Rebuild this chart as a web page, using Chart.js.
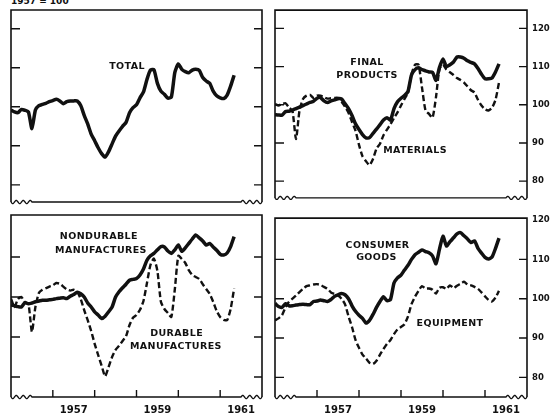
<!DOCTYPE html>
<html>
<head>
<meta charset="utf-8">
<script src="https://cdn.jsdelivr.net/npm/chart.js@4/dist/chart.umd.min.js"></script>
<style>
  html, body { margin: 0; padding: 0; background: #fff; }
  #wrap { position: relative; width: 553px; height: 417px; overflow: hidden; }
  #wrap canvas { position: absolute; }
  .base { position: absolute; left: 11px; top: -3px; font: bold 9px "DejaVu Sans", sans-serif; line-height: 9px; color: #111; white-space: pre; }
</style>
</head>
<body>
<div id="wrap">
  <div class="base">1957 = 100</div>
  <canvas id="totalChart" width="270" height="208" style="left:0;top:0"></canvas>
  <canvas id="productsChart" width="283" height="208" style="left:270px;top:0"></canvas>
  <canvas id="manufChart" width="270" height="209" style="left:0;top:208px"></canvas>
  <canvas id="goodsChart" width="283" height="209" style="left:270px;top:208px"></canvas>
</div>
<script>
const INK = '#111';
const FONT = '"DejaVu Sans", sans-serif';

// x axis: months since Jan 1956 (one value per month, Jan 1956 .. May 1961)
const yearLabels = ['1957', '1959', '1961'];
const yearLabelMonths = [18, 42, 66];
const yearTickMonths = [12, 24, 36, 48, 60];
const valueTicks = [80, 90, 100, 110, 120];

const total = [
  99.2, 98.7, 98.5, 99.3, 99.1, 98.7, 94.4, 99.2, 100.3, 100.6, 100.9, 101.3,
  101.6, 101.9, 101.5, 100.8, 101.3, 101.5, 101.5, 101.5, 100.3, 97.8, 95.6, 93.0,
  91.3, 89.5, 88.0, 87.1, 88.5, 90.5, 92.5, 93.8, 95.0, 96.0, 98.5, 99.8,
  100.5, 102.3, 103.8, 107.0, 109.4, 109.5, 106.0, 104.0, 103.2, 102.2, 102.5, 108.8,
  111.0, 109.6, 109.0, 108.7, 109.4, 109.6, 109.3, 107.5, 106.6, 106.0, 104.0, 102.8,
  102.3, 102.1, 103.0, 105.3, 108.1,
];
const finalProducts = [
  97.4, 97.3, 97.3, 98.2, 98.3, 98.6, 99.0, 99.4, 99.8, 100.2, 100.6, 100.9,
  101.7, 101.9, 101.0, 100.6, 101.0, 101.3, 101.6, 101.5, 100.3, 99.0, 97.2, 95.0,
  93.5, 92.2, 91.3, 91.4, 92.5, 93.6, 94.8, 96.0, 96.6, 96.0, 99.0, 100.8,
  101.7, 102.4, 103.5, 107.8, 109.2, 109.7, 109.2, 108.9, 108.6, 108.5, 106.4, 109.8,
  112.0, 110.0, 110.5, 111.2, 112.5, 112.5, 112.2, 111.5, 111.1, 110.7, 109.5, 108.0,
  106.8, 106.8, 107.0, 108.6, 110.7,
];
const materials = [
  100.2, 99.8, 100.2, 100.4, 99.3, 98.3, 91.0, 98.5, 101.5, 102.4, 102.6, 101.8,
  102.4, 102.4, 102.0, 101.6, 101.7, 101.8, 101.8, 100.8, 99.5, 97.9, 95.5, 93.2,
  89.5, 86.5, 85.2, 84.2, 85.8, 88.5, 89.8, 92.0, 93.5, 94.9, 96.5, 98.0,
  99.8, 101.5, 103.2, 108.0, 110.5, 110.5, 104.5, 98.5, 97.6, 96.6, 102.0, 109.5,
  110.5, 109.2, 108.5, 107.8, 107.0, 106.5, 105.8, 104.8, 103.8, 103.2, 101.3, 99.8,
  98.8, 98.5, 99.2, 101.3, 105.8,
];
const nondurable = [
  98.0, 97.8, 97.6, 97.5, 98.6, 98.3, 98.5, 98.8, 99.0, 99.2, 99.2, 99.3,
  99.4, 99.6, 99.7, 99.8, 99.6, 100.2, 100.6, 101.2, 100.8, 100.0, 98.5, 97.5,
  96.3, 95.5, 94.6, 95.2, 96.3, 97.5, 100.0, 101.3, 102.3, 103.2, 104.2, 104.4,
  104.6, 105.5, 107.0, 109.2, 110.3, 110.9, 111.8, 112.6, 112.5, 111.5, 110.9, 111.8,
  113.0, 111.4, 112.3, 113.4, 114.5, 115.5, 114.8, 114.0, 113.0, 113.4, 112.5, 111.7,
  110.7, 110.5, 111.0, 112.6, 115.1,
];
const durable = [
  99.6, 97.5, 99.5, 100.0, 98.6, 98.3, 91.3, 97.5, 101.0, 101.8, 102.2, 102.6,
  102.9, 103.5, 103.3, 102.6, 101.9, 101.6, 101.8, 101.3, 99.5, 96.7, 94.2, 91.5,
  88.3, 85.5, 82.8, 80.2, 82.5, 85.0, 86.8, 87.8, 89.0, 90.2, 93.0, 94.8,
  95.5, 96.8, 99.0, 103.5, 108.0, 109.6, 106.5, 98.8, 97.0, 96.0, 95.0, 102.0,
  110.3, 109.5, 108.5, 106.7, 105.5, 105.0, 104.5, 103.2, 102.0, 100.8, 98.8, 96.5,
  95.0, 94.3, 94.2, 97.0, 102.1,
];
const consumerGoods = [
  98.8, 98.0, 97.8, 98.7, 98.2, 98.2, 98.4, 98.5, 98.6, 98.5, 98.5, 99.3,
  99.4, 99.7, 99.5, 99.3, 99.8, 100.6, 101.0, 101.3, 101.0, 100.0, 98.2, 96.8,
  95.8, 95.0, 93.8, 94.5, 96.0, 97.8, 99.3, 100.5, 99.5, 99.8, 104.0, 105.3,
  106.0, 107.3, 108.5, 110.0, 111.2, 111.8, 112.4, 112.0, 111.7, 110.9, 108.9, 112.6,
  115.9, 113.4, 114.5, 115.5, 116.5, 116.8, 116.0, 115.2, 114.3, 114.7, 112.8, 111.6,
  110.5, 110.1, 110.6, 112.8, 115.4,
];
const equipment = [
  94.5, 95.0, 95.8, 97.8, 99.2, 100.0, 100.8, 101.7, 102.5, 103.2, 103.4, 103.6,
  103.7, 103.5, 103.0, 102.5, 101.6, 101.2, 100.8, 100.0, 98.6, 95.5, 92.8, 89.5,
  87.5, 85.8, 84.8, 83.7, 83.4, 84.2, 85.8, 87.2, 88.5, 89.5, 91.0, 92.2,
  92.8, 93.5, 95.5, 98.6, 100.5, 102.0, 103.2, 102.6, 102.6, 102.3, 101.3, 102.8,
  102.9, 102.5, 103.4, 102.7, 103.3, 103.8, 104.3, 103.6, 103.4, 103.0, 102.5, 101.6,
  100.6, 99.7, 99.3, 100.3, 102.0,
];

function series(label, values, dashed) {
  return {
    label,
    data: values.map((v, i) => ({ x: i, y: v })),
    borderColor: INK,
    borderWidth: dashed ? 2.4 : 3.5,
    borderDash: dashed ? [6, 3] : [],
    borderJoinStyle: 'round',
    pointRadius: 0,
    tension: 0.2,
    fill: false,
  };
}

// frame with inward ticks, broken bottom edge and the in-chart captions
const framePlugin = {
  id: 'frame',
  afterDatasetsDraw(chart, args, opts) {
    const { ctx, chartArea: a, scales: { x, y } } = chart;
    ctx.save();
    ctx.strokeStyle = INK;
    ctx.lineWidth = 1.6;
    ctx.setLineDash([]);
    ctx.beginPath();
    ctx.moveTo(a.left, a.bottom);
    ctx.lineTo(a.left, a.top);
    ctx.lineTo(a.right, a.top);
    ctx.lineTo(a.right, a.bottom);
    ctx.stroke();

    // bottom edge: scale-break waves at both ends
    const wave = 21;
    ctx.lineWidth = 1.3;
    ctx.beginPath();
    for (let px = 0; px <= wave; px += 0.5) {
      const yy = a.bottom + 1.6 * Math.sin((px / 7) * Math.PI * 2);
      px === 0 ? ctx.moveTo(a.left + px, yy) : ctx.lineTo(a.left + px, yy);
    }
    ctx.lineTo(a.right - wave, a.bottom);
    for (let px = wave; px >= 0; px -= 0.5) {
      ctx.lineTo(a.right - px, a.bottom + 1.6 * Math.sin((px / 7) * Math.PI * 2));
    }
    ctx.stroke();

    ctx.lineWidth = 1.4;
    ctx.beginPath();
    valueTicks.forEach((v) => {
      const py = y.getPixelForValue(v);
      if (py < a.top + 4 || py > a.bottom - 4) return;
      ctx.moveTo(a.left, py); ctx.lineTo(a.left + 9, py);
      ctx.moveTo(a.right - 8, py); ctx.lineTo(a.right, py);
    });
    if (opts.yearTicks) {
      yearTickMonths.forEach((m) => {
        const px = x.getPixelForValue(m);
        ctx.moveTo(px, a.bottom); ctx.lineTo(px, a.bottom - 7);
      });
    }
    ctx.stroke();

    ctx.fillStyle = INK;
    ctx.font = `bold 9.5px ${FONT}`;
    ctx.textAlign = 'center';
    ctx.textBaseline = 'middle';
    ctx.letterSpacing = '0.4px';
    (opts.captions || []).forEach((c) => {
      ctx.fillText(c.text, x.getPixelForValue(c.m), y.getPixelForValue(c.v));
    });
    ctx.restore();
  },
};

function xScale(withLabels) {
  const s = { type: 'linear', min: 0, max: 72, display: withLabels };
  if (withLabels) {
    Object.assign(s, {
      grid: { display: false, drawTicks: false },
      border: { display: false },
      afterBuildTicks: (axis) => { axis.ticks = yearLabelMonths.map((value) => ({ value })); },
      afterFit: (axis) => { axis.height = 20; },
      ticks: {
        autoSkip: false, maxRotation: 0, padding: 7, color: INK,
        font: { family: FONT, size: 10, weight: 'bold' },
        callback: (v) => yearLabels[yearLabelMonths.indexOf(v)],
      },
    });
  }
  return s;
}

function yScale(min, max, withLabels) {
  const s = { type: 'linear', min, max, display: withLabels, position: 'right' };
  if (withLabels) {
    Object.assign(s, {
      grid: { display: false, drawTicks: false },
      border: { display: false },
      afterBuildTicks: (axis) => { axis.ticks = valueTicks.filter((v) => v <= max).map((value) => ({ value })); },
      afterFit: (axis) => { axis.width = 26; },
      ticks: {
        padding: 5, color: INK,
        font: { family: FONT, size: 8.5, weight: 'bold' },
        callback: (v) => String(v),
      },
    });
  }
  return s;
}

function makeChart(id, datasets, opts) {
  return new Chart(document.getElementById(id), {
    type: 'line',
    data: { datasets },
    options: {
      responsive: false,
      animation: false,
      events: [],
      layout: { padding: opts.padding },
      scales: {
        x: xScale(opts.bottom),
        y: yScale(opts.min, opts.max, opts.right),
      },
      plugins: {
        legend: { display: false },
        tooltip: { enabled: false },
        frame: { yearTicks: opts.bottom, captions: opts.captions },
      },
    },
    plugins: [framePlugin],
  });
}

makeChart('totalChart', [series('Total', total, false)], {
  padding: { left: 11, top: 10, right: 8, bottom: 6 },
  min: 75.6, max: 124.8, bottom: false, right: false,
  captions: [{ text: 'TOTAL', m: 33.3, v: 110.2 }],
});

makeChart('productsChart', [
  series('Final products', finalProducts, false),
  series('Materials', materials, true),
], {
  padding: { left: 5, top: 10, right: 0, bottom: 6 },
  min: 75.6, max: 124.8, bottom: false, right: true,
  captions: [
    { text: 'FINAL', m: 26.3, v: 111.1 },
    { text: 'PRODUCTS', m: 26.3, v: 107.6 },
    { text: 'MATERIALS', m: 40, v: 88.1 },
  ],
});

makeChart('manufChart', [
  series('Nondurable manufactures', nondurable, false),
  series('Durable manufactures', durable, true),
], {
  padding: { left: 11, top: 7, right: 8, bottom: 0 },
  min: 75, max: 120.5, bottom: true, right: false,
  captions: [
    { text: 'NONDURABLE', m: 25.2, v: 115 },
    { text: 'MANUFACTURES', m: 25.8, v: 111.5 },
    { text: 'DURABLE', m: 47.5, v: 90.9 },
    { text: 'MANUFACTURES', m: 47.3, v: 87.5 },
  ],
});

makeChart('goodsChart', [
  series('Consumer goods', consumerGoods, false),
  series('Equipment', equipment, true),
], {
  padding: { left: 5, top: 7, right: 0, bottom: 0 },
  min: 75, max: 120.5, bottom: true, right: true,
  captions: [
    { text: 'CONSUMER', m: 29.3, v: 113.6 },
    { text: 'GOODS', m: 29.0, v: 110.4 },
    { text: 'EQUIPMENT', m: 50, v: 93.75 },
  ],
});
</script>
</body>
</html>
